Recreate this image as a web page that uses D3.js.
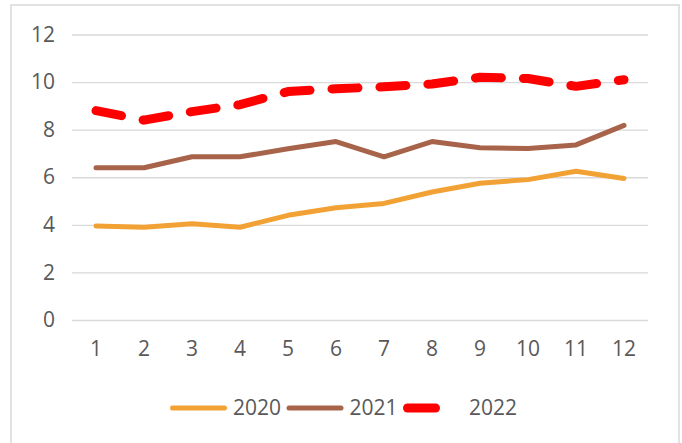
<!DOCTYPE html>
<html>
<head>
<meta charset="utf-8">
<script src="https://cdn.jsdelivr.net/npm/d3@7"></script>
<style>
  html, body { margin: 0; padding: 0; background: #fff; }
  svg { display: block; }
  .tick text { font-family: "Open Sans", sans-serif; font-size: 21px; fill: #595959; }
  .legend text { font-family: "Open Sans", sans-serif; font-size: 21px; fill: #595959; }
</style>
</head>
<body>
<div id="chart"></div>
<script>
// chart data
var months = ["1", "2", "3", "4", "5", "6", "7", "8", "9", "10", "11", "12"];
var yTicks = [0, 2, 4, 6, 8, 10, 12];
var values2020 = [3.95, 3.9, 4.05, 3.9, 4.4, 4.72, 4.9, 5.38, 5.75, 5.9, 6.25, 5.95];
var values2021 = [6.4, 6.4, 6.86, 6.86, 7.2, 7.5, 6.86, 7.5, 7.24, 7.21, 7.36, 8.18];
var values2022 = [8.8, 8.4, 8.76, 9.05, 9.6, 9.72, 9.8, 9.92, 10.2, 10.15, 9.82, 10.1];
var seriesNames = ["2020", "2021", "2022"];

var series = [
    { name: seriesNames[0], values: values2020, color: "#f2a234", width: 5, dash: null },
    { name: seriesNames[1], values: values2021, color: "#a8644a", width: 5, dash: null },
    { name: seriesNames[2], values: values2022, color: "#ff0000", width: 9, dash: "26,22" }
];

var width = 682, height = 443;
var plot = { left: 72, right: 648, top: 34.5, bottom: 320 };

var svg = d3.select("#chart")
    .append("svg")
    .attr("width", width)
    .attr("height", height);

// outer frame
svg.append("rect")
    .attr("x", 11)
    .attr("y", 5)
    .attr("width", 668)
    .attr("height", 460)
    .attr("fill", "#fff")
    .attr("stroke", "#d9d9d9")
    .attr("stroke-width", 1.5);

var x = d3.scaleBand()
    .domain(months)
    .range([plot.left, plot.right])
    .padding(0);

var y = d3.scaleLinear()
    .domain([0, 12])
    .range([plot.bottom, plot.top]);

// y axis + gridlines
var yAxis = svg.append("g")
    .attr("transform", "translate(" + plot.left + ",0)")
    .call(d3.axisLeft(y)
        .tickValues(yTicks)
        .tickSize(-(plot.right - plot.left))
        .tickPadding(17));
yAxis.select(".domain").remove();
yAxis.selectAll(".tick line")
    .attr("stroke", "#d9d9d9")
    .attr("stroke-width", 1.3);

// x axis labels
var xAxis = svg.append("g")
    .attr("transform", "translate(0," + plot.bottom + ")")
    .call(d3.axisBottom(x).tickSize(0).tickPadding(21));
xAxis.select(".domain").remove();

var line = d3.line()
    .x(function(d, i) { return x(months[i]) + x.bandwidth() / 2; })
    .y(function(d) { return y(d); });

svg.selectAll(".series")
    .data(series)
    .enter()
    .append("path")
    .attr("class", "series")
    .attr("d", function(d) { return line(d.values); })
    .attr("fill", "none")
    .attr("stroke", function(d) { return d.color; })
    .attr("stroke-width", function(d) { return d.width; })
    .attr("stroke-linejoin", "round")
    .attr("stroke-linecap", "round")
    .attr("stroke-dasharray", function(d) { return d.dash; });

// legend
var legend = svg.append("g").attr("class", "legend");
var legendX = d3.scalePoint().domain(seriesNames).range([170, 403]);
var item = legend.selectAll("g")
    .data(series)
    .enter()
    .append("g")
    .attr("transform", function(d) { return "translate(" + legendX(d.name) + ",408)"; });

// dashed series shows a single dash in the legend
item.append("line")
    .attr("x1", function(d) { return d.width / 2; })
    .attr("x2", function(d) { return d.dash ? 37 - d.width / 2 : 57 - d.width / 2; })
    .attr("y1", 0)
    .attr("y2", 0)
    .attr("stroke", function(d) { return d.color; })
    .attr("stroke-width", function(d) { return d.width; })
    .attr("stroke-linecap", "round");

item.append("text")
    .attr("x", function(d) { return d.dash ? 66 : 63; })
    .attr("dy", "0.35em")
    .text(function(d) { return d.name; });
</script>
</body>
</html>
